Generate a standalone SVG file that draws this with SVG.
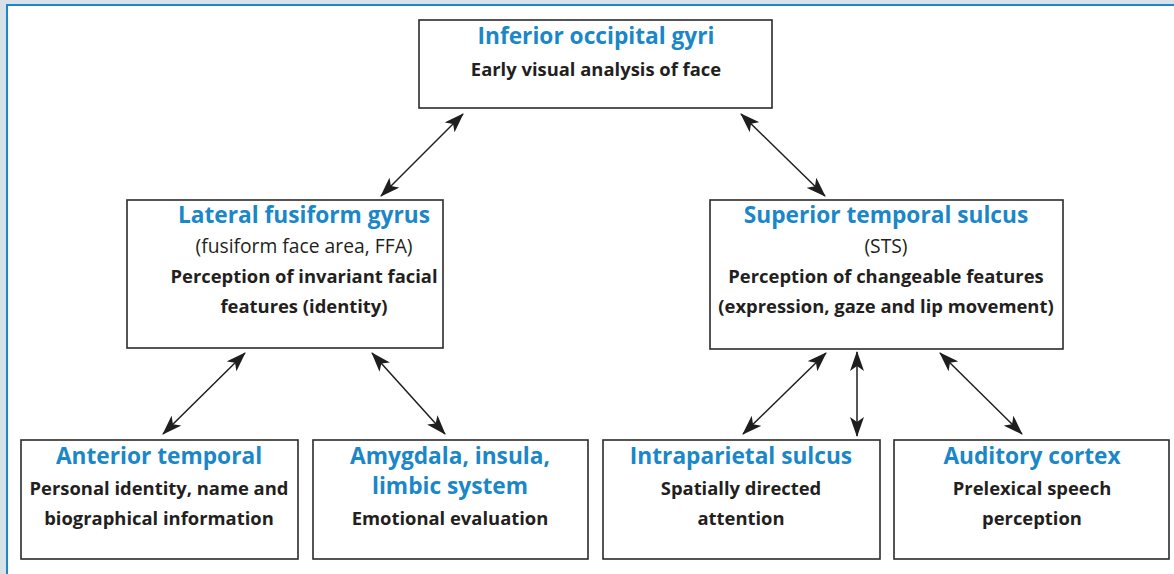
<svg xmlns="http://www.w3.org/2000/svg" width="1174" height="574" viewBox="0 0 1174 574">
<style>
.box{fill:#fff;stroke:#2b2b2b;stroke-width:1.6}
.t{font-family:"Open Sans","Noto Sans","Liberation Sans",sans-serif;font-weight:700;font-size:22.7px;fill:#1a87c8;text-anchor:middle}
.b{font-family:"Open Sans","Noto Sans","Liberation Sans",sans-serif;font-weight:700;font-size:18.4px;fill:#231f20;text-anchor:middle}
.r{font-family:"Open Sans","Noto Sans","Liberation Sans",sans-serif;font-weight:400;font-size:19.3px;fill:#231f20;text-anchor:middle}
.c{stroke:#1e1e1e;stroke-width:1.5;fill:none;marker-start:url(#ah);marker-end:url(#ah)}
</style>
<defs>
<marker id="ah" viewBox="0 0 20 14" refX="19" refY="7" markerWidth="20" markerHeight="14" markerUnits="userSpaceOnUse" orient="auto-start-reverse">
<path d="M0,0 L20,7 L0,14 L5,7 Z" fill="#1e1e1e"/>
</marker>
</defs>
<rect x="0" y="0" width="1174" height="574" fill="#d8e0e8"/>
<rect x="7" y="5" width="1180" height="580" fill="#fff" stroke="#1b86c8" stroke-width="2"/>
<g id="connectors">
<line class="c" x1="463" y1="114" x2="381" y2="196"/>
<line class="c" x1="741" y1="114" x2="825" y2="196"/>
<line class="c" x1="245" y1="353" x2="163" y2="434"/>
<line class="c" x1="372" y1="353" x2="445" y2="434"/>
<line class="c" x1="826" y1="353" x2="743" y2="434"/>
<line class="c" x1="857" y1="352" x2="857" y2="436"/>
<line class="c" x1="940" y1="353" x2="1022" y2="434"/>
</g>
<g id="node-iog">
<rect class="box" x="419" y="20" width="353" height="88"/>
<text class="t" x="596" y="44">Inferior occipital gyri</text>
<text class="b" x="596" y="76">Early visual analysis of face</text>
</g>
<g id="node-lfg">
<rect class="box" x="127" y="200" width="316" height="148"/>
<text class="t" x="304" y="223">Lateral fusiform gyrus</text>
<text class="r" x="304" y="253">(fusiform face area, FFA)</text>
<text class="b" x="304" y="283">Perception of invariant facial</text>
<text class="b" x="304" y="313">features (identity)</text>
</g>
<g id="node-sts">
<rect class="box" x="710" y="200" width="353" height="149"/>
<text class="t" x="886" y="223">Superior temporal sulcus</text>
<text class="r" x="886" y="253">(STS)</text>
<text class="b" x="886" y="283">Perception of changeable features</text>
<text class="b" x="886" y="313">(expression, gaze and lip movement)</text>
</g>
<g id="node-at">
<rect class="box" x="21" y="440" width="277" height="119"/>
<text class="t" x="159" y="464">Anterior temporal</text>
<text class="b" x="159" y="495">Personal identity, name and</text>
<text class="b" x="159" y="525">biographical information</text>
</g>
<g id="node-amy">
<rect class="box" x="313" y="440" width="275" height="119"/>
<text class="t" x="450" y="464">Amygdala, insula,</text>
<text class="t" x="450" y="494">limbic system</text>
<text class="b" x="450" y="525">Emotional evaluation</text>
</g>
<g id="node-ips">
<rect class="box" x="603" y="440" width="277" height="119"/>
<text class="t" x="741" y="464">Intraparietal sulcus</text>
<text class="b" x="741" y="495">Spatially directed</text>
<text class="b" x="741" y="525">attention</text>
</g>
<g id="node-aud">
<rect class="box" x="894" y="440" width="275" height="119"/>
<text class="t" x="1032" y="464">Auditory cortex</text>
<text class="b" x="1032" y="495">Prelexical speech</text>
<text class="b" x="1032" y="525">perception</text>
</g>
</svg>
